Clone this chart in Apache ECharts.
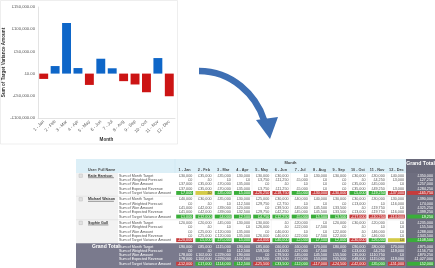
<!DOCTYPE html>
<html><head><meta charset="utf-8">
<script src="https://cdn.jsdelivr.net/npm/echarts@6/dist/echarts.min.js"></script>
<style>html,body{margin:0;padding:0;background:#fff;overflow:hidden}#c{width:435px;height:268px}</style>
</head><body><div id="c"></div>
<script>
// ---- chart data ----
const months = ['1 - Jan','2 - Feb','3 - Mar','4 - Apr','5 - May','6 - Jun','7 - Jul','8 - Aug','9 - Sep','10 - Oct','11 - Nov','12 - Dec'];
const variance = [-12000, 17000, 114000, 12500, -25500, 33500, 12000, -17000, -24500, -42000, 35000, -51000];
const yMin = -100000, yMax = 150000, yStep = 50000;

// ---- table data ----
const people = ['Katie Harrison', 'Michael Watson', 'Sophie Gull'];
const measures = ['Sum of Month Target', 'Sum of Weighted Forecast', 'Sum of Won Amount', 'Sum of Expected Revenue', 'Sum of Target Variance Amount'];

const katieTarget   = [30000,35000,35000,30000,30000,30000,0,30000,30000,30000,30000,40000];
const katieWeighted = [0,0,0,0,3750,11250,5000,0,0,0,4250,3000];
const katieWon      = [37000,35000,70000,35000,0,0,0,0,0,35000,45000,0];
const katieExpected = [37000,35000,70000,35000,3750,11250,5000,0,0,35000,49250,3000];
const katieVariance = [7000,0,35000,5000,-26250,-18750,5000,-30000,-30000,5000,19250,-37000];
const katieTotals   = [350000,27250,257000,284250,-65750];

const michaelTarget   = [40000,30000,35000,30000,25000,30000,40000,40000,30000,30000,30000,30000];
const michaelWeighted = [0,0,0,12500,29750,2750,0,0,0,13000,0,16000];
const michaelWon      = [41000,42000,39000,20000,0,39500,45000,45500,33500,0,19750,0];
const michaelExpected = [41000,42000,39000,32500,29750,42250,45000,45500,33500,13000,19750,16000];
const michaelVariance = [1000,12000,4000,2500,4750,12250,5000,5500,3500,-17000,-10250,-14000];
const michaelTotals   = [390000,74000,325250,399250,9250];

const sophieTarget   = [20000,20000,45000,30000,30000,0,20000,0,20000,30000,20000,0];
const sophieWeighted = [0,0,0,0,26000,0,22000,7500,0,0,0,0];
const sophieWon      = [0,25000,120000,35000,0,40000,0,0,22000,0,46000,0];
const sophieExpected = [0,25000,120000,35000,26000,40000,22000,7500,22000,0,46000,0];
const sophieVariance = [-20000,5000,75000,5000,-4000,40000,2000,7500,2000,-30000,26000,0];
const sophieTotals   = [235000,55500,288000,343500,108500];

const totalTarget   = [90000,85000,115000,90000,85000,60000,60000,70000,80000,90000,80000,70000];
const totalWeighted = [0,0,0,12500,59500,14000,27000,7500,0,13000,4250,19000];
const totalWon      = [78000,102000,229000,90000,0,79500,45000,45500,55500,35000,110750,0];
const totalExpected = [78000,102000,229000,102500,59500,93500,72000,53000,55500,48000,115000,19000];
const totalTotals   = [975000,156750,870250,1027000,52000];

const blocks = [
  {name: people[0], rows: [katieTarget,katieWeighted,katieWon,katieExpected,katieVariance], totals: katieTotals},
  {name: people[1], rows: [michaelTarget,michaelWeighted,michaelWon,michaelExpected,michaelVariance], totals: michaelTotals},
  {name: people[2], rows: [sophieTarget,sophieWeighted,sophieWon,sophieExpected,sophieVariance], totals: sophieTotals},
  {name: 'Grand Total', rows: [totalTarget,totalWeighted,totalWon,totalExpected,variance], totals: totalTotals, grand: true}
];

const FF = '"Liberation Sans", Arial, sans-serif';
function money(v){ const s = '£' + Math.abs(v).toLocaleString('en-GB'); return v < 0 ? '-' + s : s; }
function moneyAxis(v){ const s = '£' + Math.abs(v).toLocaleString('en-GB', {minimumFractionDigits:2, maximumFractionDigits:2}); return v < 0 ? '-' + s : s; }

// ---- graphic elements (arrow + table) ----
const g = [];
function rect(x,y,w,h,fill,stroke){ g.push({type:'rect', silent:true, shape:{x:x,y:y,width:w,height:h}, style:{fill:fill, stroke:stroke||null, lineWidth:0.5}}); }
function line(x1,y1,x2,y2,stroke){ g.push({type:'line', silent:true, shape:{x1:x1,y1:y1,x2:x2,y2:y2}, style:{stroke:stroke, lineWidth:0.5}}); }
function txt(x,y,s,opt){ g.push({type:'text', silent:true, x:x, y:y, style:Object.assign({text:s, fontSize:3.7, fill:'#555', fontFamily:FF, align:'left', verticalAlign:'middle'}, opt||{})}); }

// chart frame
rect(0.5,0.5,177,143.5,null,'#dddddd');

// arrow
g.push({type:'bezierCurve', silent:true, shape:{x1:199,y1:71,cpx1:232,cpy1:71,cpx2:256,cpy2:95,x2:264,y2:120}, style:{stroke:'#3e6fb3', lineWidth:6.5, fill:null}});
g.push({type:'polygon', silent:true, shape:{points:[[256,120],[278,117],[270,139]]}, style:{fill:'#3e6fb3'}});

// table geometry
const TX0 = 76, NAMEX = 88, LABX = 119, DX0 = 175, CW = 19.25, GTX0 = 406, GTX1 = 435;
const HY0 = 159, BY0 = 173, BH = 23.6, RH = 4.3;
const GREEN = '#3aae3a', RED = '#c63c3c', YEL = '#d4cb48';

// header
rect(TX0, HY0, GTX0 - TX0, BY0 - HY0, '#dcEFF7');
line(DX0, HY0, DX0, BY0, '#c9e2ee');
txt((DX0 + GTX0) / 2, 162.5, 'Month', {align:'center', fontWeight:'bold', fontSize:4, fill:'#444'});
txt(NAMEX, 169.5, 'User: Full Name', {fontWeight:'bold', fontSize:3.6, fill:'#444'});
months.forEach((m, i) => {
  txt(DX0 + i*CW + CW/2, 169.5, m, {align:'center', fontWeight:'bold', fontSize:3.8, fill:'#444'});
});
rect(GTX0, HY0, GTX1 - GTX0, BY0 - HY0, '#6a6a7b');
txt((GTX0 + GTX1) / 2, 164, 'Grand Total', {align:'center', fontWeight:'bold', fontSize:5.2, fill:'#ffffff'});

// body backgrounds
rect(TX0, BY0, GTX0 - TX0, 3*BH, '#ffffff');
rect(TX0, BY0, LABX - 1 - TX0, 3*BH, '#f2f2f2');
rect(GTX0, BY0, GTX1 - GTX0, 268 - BY0, '#6e6e7f');
rect(TX0, BY0 + 3*BH - 0.6, GTX0 - TX0, 268 - (BY0 + 3*BH - 0.6), '#7a7a8d');
for (let i = 1; i < months.length; i++) line(DX0 + i*CW, BY0, DX0 + i*CW, BY0 + 3*BH, '#ececec');

blocks.forEach((b, bi) => {
  const top = BY0 + bi*BH;
  const grand = !!b.grand;
  if (!grand) {
    rect(79, top + 1, 3.4, 3.4, '#e2e2e2', '#bdbdbd');
    txt(NAMEX, top + 2.7, b.name, {fontWeight:'bold', fontSize:3.6, fill:'#333'});
    line(NAMEX, top + 4.7, NAMEX + b.name.length*1.85, top + 4.7, '#333');
    if (bi < 2) line(TX0, top + BH - 0.4, GTX0, top + BH - 0.4, '#d8d8d8');
  } else {
    txt(NAMEX + 4, top + 2.9, b.name, {fontWeight:'bold', fontSize:5, fill:'#ffffff'});
  }
  measures.forEach((ms, r) => {
    const cy = top + 2.7 + r*RH;
    txt(LABX, cy, ms, {fill: grand ? '#ffffff' : '#555'});
    const vals = b.rows[r].concat([b.totals[r]]);
    vals.forEach((v, i) => {
      const isGT = i === months.length;
      const x0 = isGT ? GTX0 : DX0 + i*CW;
      const w = isGT ? GTX1 - GTX0 : CW;
      if (r === 4) {
        const col = v > 0 ? GREEN : (v < 0 ? RED : YEL);
        rect(x0 + 1.2, cy - 1.9, w - 2.4, 3.9, col);
        txt(x0 + w - 2, cy, money(v), {align:'right', fill: v === 0 ? '#444' : '#ffffff'});
      } else {
        txt(x0 + w - 2, cy, money(v), {align:'right', fill: (grand || isGT) ? '#ffffff' : '#555'});
      }
    });
  });
});

// ---- chart ----
const chart = echarts.init(document.getElementById('c'), null, {renderer:'canvas'});
chart.setOption({
  animation: false,
  textStyle: {fontFamily: FF},
  grid: {left: 38, right: 260, top: 7, bottom: 150, containLabel: false},
  xAxis: {
    type: 'category', data: months,
    name: 'Month', nameLocation: 'middle', nameGap: 19,
    nameTextStyle: {fontSize: 4.6, fontWeight: 'bold', color: '#333'},
    axisLine: {onZero: false, lineStyle: {color: '#d0d0d0', width: 0.6}},
    axisTick: {show: false},
    axisLabel: {rotate: 45, fontSize: 4.4, color: '#555', margin: 3, interval: 0}
  },
  yAxis: {
    type: 'value', min: yMin, max: yMax, interval: yStep,
    name: 'Sum of Target Variance Amount', nameLocation: 'middle', nameGap: 31, nameRotate: 90,
    nameTextStyle: {fontSize: 4.6, fontWeight: 'bold', color: '#333'},
    axisLine: {show: true, lineStyle: {color: '#d0d0d0', width: 0.6}},
    axisTick: {show: false},
    splitLine: {show: false},
    axisLabel: {fontSize: 4.2, color: '#555', margin: 3, formatter: moneyAxis}
  },
  series: [{
    type: 'bar', data: variance.map(v => ({value: v, itemStyle: {color: v >= 0 ? '#0e66c8' : '#cc1414'}})),
    barCategoryGap: '22%'
  }],
  graphic: {elements: g}
});
</script>
</body></html>
